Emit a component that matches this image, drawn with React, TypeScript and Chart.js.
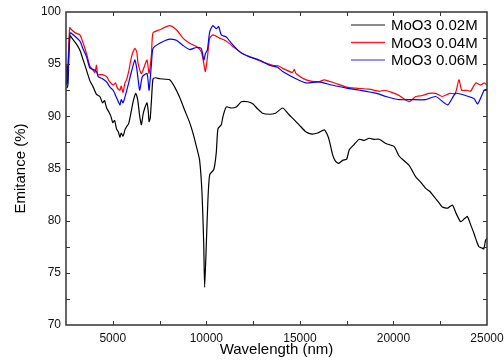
import React, { useEffect, useRef } from "react";
import { Chart, registerables } from "chart.js";

Chart.register(...registerables);

const FONT = "'Liberation Sans', Arial, sans-serif";

// MoO3 0.02M (black)
const wl002 = [2550, 2600, 2650, 2720, 2900, 3100, 3250, 3400, 3600, 3780, 3955, 4130, 4310, 4450, 4560, 4670, 4800, 4900, 5000, 5100, 5200, 5300, 5380, 5450, 5550, 5650, 5735, 5850, 6000, 6100, 6230, 6330, 6440, 6530, 6620, 6710, 6830, 6900, 6940, 7000, 7070, 7150, 7300, 7510, 8040, 8310, 8580, 8840, 9110, 9300, 9470, 9640, 9770, 9860, 9910, 10000, 10085, 10180, 10400, 10530, 10620, 10800, 10890, 11070, 11330, 11600, 11870, 12220, 12480, 12750, 13000, 13370, 13700, 14080, 14400, 14790, 15050, 15330, 15650, 15950, 16300, 16450, 16570, 16750, 16900, 17070, 17300, 17500, 17640, 17900, 18170, 18450, 18700, 18950, 19240, 19600, 20040, 20300, 20600, 20840, 21000, 21190, 21450, 21720, 21950, 22170, 22400, 22610, 22900, 23150, 23350, 23590, 23800, 23950, 24150, 24300, 24450, 24570, 24700, 24830, 24920, 25000];
const em002 = [92.7, 93.0, 95.5, 97.7, 97.3, 96.8, 96.3, 95.5, 94.4, 93.4, 92.8, 92.1, 91.9, 91.3, 91.5, 90.8, 90.4, 90.0, 89.4, 89.6, 88.8, 88.5, 88.0, 88.4, 88.1, 88.7, 89.0, 89.3, 90.6, 91.5, 92.2, 91.6, 90.0, 89.2, 90.2, 90.8, 91.3, 90.4, 89.5, 89.8, 91.6, 93.6, 93.7, 93.6, 93.5, 92.8, 91.8, 90.6, 89.4, 88.3, 87.1, 85.8, 82.6, 77.8, 73.6, 77.8, 82.0, 84.4, 84.9, 86.5, 88.8, 89.2, 90.0, 90.9, 90.8, 90.9, 91.4, 91.4, 91.2, 90.7, 90.3, 90.2, 90.3, 90.8, 90.2, 89.5, 89.0, 88.5, 88.3, 88.4, 88.7, 88.3, 87.7, 86.3, 85.7, 85.5, 85.8, 85.9, 86.8, 87.3, 87.8, 87.7, 87.9, 87.8, 87.8, 87.4, 87.1, 86.2, 85.7, 85.3, 84.8, 84.2, 83.7, 83.1, 82.8, 82.3, 81.8, 81.3, 81.2, 81.5, 80.7, 79.9, 80.2, 80.4, 79.5, 78.8, 78.0, 77.5, 77.4, 77.3, 78.1, 78.3];

// MoO3 0.04M (red)
const wl004 = [2530, 2560, 2600, 2640, 2700, 2800, 3000, 3246, 3400, 3600, 3780, 3955, 4050, 4130, 4200, 4450, 4670, 4800, 5020, 5150, 5250, 5380, 5450, 5550, 5650, 5735, 5850, 6000, 6180, 6280, 6350, 6530, 6650, 6830, 6940, 7070, 7150, 7510, 8040, 8400, 8750, 9110, 9470, 9730, 9850, 9950, 10060, 10180, 10350, 10710, 11070, 11420, 11950, 12480, 13020, 13550, 13900, 14080, 14600, 14700, 14790, 15330, 16000, 16300, 16850, 17500, 18000, 18700, 19240, 19500, 19900, 20300, 20840, 21190, 21550, 21900, 22260, 22610, 23000, 23300, 23500, 23650, 23950, 24120, 24400, 24650, 24850, 25000];
const em004 = [95.0, 94.0, 94.6, 96.5, 98.5, 98.3, 98.0, 97.8, 97.1, 96.0, 94.8, 94.4, 94.2, 94.9, 94.0, 94.0, 93.8, 93.4, 93.0, 93.2, 92.7, 92.5, 92.9, 92.3, 93.2, 93.5, 94.3, 95.7, 96.5, 96.2, 95.1, 94.1, 94.6, 95.4, 94.1, 96.0, 98.0, 98.3, 98.7, 98.3, 97.5, 97.0, 96.7, 96.2, 95.2, 94.3, 95.7, 97.5, 97.8, 97.5, 97.2, 96.7, 96.0, 95.6, 95.2, 94.9, 94.8, 94.6, 94.2, 94.5, 94.1, 93.5, 93.3, 93.5, 93.2, 92.8, 92.7, 92.6, 92.4, 92.5, 92.3, 92.0, 91.4, 91.9, 92.0, 92.2, 92.2, 91.9, 92.2, 92.2, 93.5, 92.5, 92.5, 92.4, 93.2, 93.0, 93.2, 93.0];

// MoO3 0.06M (blue)
const wl006 = [2530, 2560, 2590, 2620, 2660, 2720, 2900, 3246, 3400, 3600, 3780, 3955, 4130, 4220, 4450, 4670, 4850, 5020, 5200, 5380, 5450, 5550, 5735, 5850, 6000, 6180, 6280, 6350, 6440, 6580, 6830, 6940, 7070, 7150, 7510, 8040, 8400, 8750, 9110, 9470, 9730, 9870, 9950, 10060, 10180, 10350, 10530, 10660, 10800, 11070, 11250, 11770, 12300, 12830, 13370, 13800, 14080, 14790, 15330, 16000, 16700, 17500, 18200, 19100, 19600, 20300, 21000, 21720, 22260, 22900, 23320, 23850, 24300, 24500, 24850, 25000];
const em006 = [93.0, 94.8, 93.2, 95.0, 96.5, 98.0, 97.8, 97.2, 96.5, 95.7, 94.6, 94.5, 94.3, 93.8, 93.6, 93.3, 92.8, 92.5, 91.8, 91.1, 91.6, 91.3, 92.4, 93.2, 94.3, 95.4, 94.6, 93.6, 92.5, 93.8, 94.1, 92.5, 95.1, 96.5, 97.0, 97.4, 97.3, 96.8, 96.4, 96.6, 96.5, 95.4, 96.0, 96.4, 98.1, 98.7, 98.4, 98.6, 97.8, 97.6, 97.2, 96.2, 95.7, 95.4, 94.9, 94.7, 94.3, 93.6, 93.2, 93.3, 93.0, 92.7, 92.5, 92.2, 91.9, 91.6, 91.6, 91.6, 91.9, 91.1, 92.2, 92.0, 91.7, 91.2, 92.5, 92.6];

const seriesNames = ["MoO3 0.02M", "MoO3 0.04M", "MoO3 0.06M"];
const seriesColors = ["#000000", "#ff0000", "#0000ff"];
const legendColors = ["#666666", "#ff2020", "#7070ff"];
const xTickValues = [5000, 10000, 15000, 20000, 25000];
const yTickValues = [70, 75, 80, 85, 90, 95, 100];

const toPoints = (xs: number[], ys: number[]) => xs.map((x, i) => ({ x, y: ys[i] }));

const framePlugin = {
  id: "frame",
  afterDatasetsDraw(chart: any) {
    const { ctx, chartArea } = chart;
    const { left, right, top, bottom } = chartArea;
    const xs = chart.scales.x;
    const ys = chart.scales.y;
    ctx.save();
    ctx.strokeStyle = "#333333";
    ctx.lineWidth = 1;
    ctx.beginPath();
    for (let v = xs.min + 2500; v < xs.max; v += 2500) {
      const p = Math.round(xs.getPixelForValue(v)) + 0.5;
      ctx.moveTo(p, bottom);
      ctx.lineTo(p, bottom - 4);
      ctx.moveTo(p, top);
      ctx.lineTo(p, top + 4);
    }
    for (let v = ys.min + 2.5; v < ys.max; v += 2.5) {
      const p = Math.round(ys.getPixelForValue(v)) + 0.5;
      ctx.moveTo(left, p);
      ctx.lineTo(left + 4, p);
      ctx.moveTo(right, p);
      ctx.lineTo(right - 4, p);
    }
    ctx.stroke();
    ctx.lineWidth = 1.5;
    ctx.strokeRect(left, top, right - left, bottom - top);
    ctx.font = "15px " + FONT;
    ctx.textBaseline = "middle";
    ctx.textAlign = "left";
    const rows = [25, 42.5, 60];
    seriesNames.forEach((name, i) => {
      ctx.strokeStyle = legendColors[i];
      ctx.lineWidth = 1.3;
      ctx.beginPath();
      ctx.moveTo(351, rows[i]);
      ctx.lineTo(385, rows[i]);
      ctx.stroke();
      ctx.fillStyle = "#000";
      ctx.fillText(name, 391, rows[i] + 1);
    });
    ctx.restore();
  },
};

export default function App() {
  const ref = useRef<HTMLCanvasElement | null>(null);
  useEffect(() => {
    document.body.style.margin = "0";
    const canvas = ref.current;
    if (!canvas) return;
    const series = [toPoints(wl002, em002), toPoints(wl004, em004), toPoints(wl006, em006)];
    const chart = new Chart(canvas, {
      type: "line",
      data: {
        datasets: [2, 1, 0].map((i) => ({
          label: seriesNames[i],
          data: series[i],
          borderColor: seriesColors[i],
          borderWidth: 1.2,
          pointRadius: 0,
          tension: 0.2,
          fill: false,
        })),
      },
      options: {
        responsive: false,
        animation: false,
        devicePixelRatio: 1,
        layout: { padding: { top: 12, right: 17, left: 12, bottom: 0 } },
        plugins: { legend: { display: false }, tooltip: { enabled: false } },
        scales: {
          x: {
            type: "linear",
            min: 2500,
            max: 25000,
            afterBuildTicks: (scale: any) => {
              scale.ticks = xTickValues.map((v) => ({ value: v }));
            },
            afterFit: (scale: any) => {
              scale.height = 35;
              scale.paddingLeft = 0;
              scale.paddingRight = 0;
            },
            grid: { display: false, drawTicks: false },
            border: { display: false },
            ticks: {
              padding: 6,
              maxRotation: 0,
              autoSkip: false,
              color: "#111",
              font: { family: FONT, size: 12 },
              callback: (v: any) => String(v),
            },
            title: {
              display: true,
              text: "Wavelength (nm)",
              color: "#000",
              font: { family: FONT, size: 15 },
              padding: { top: 0, bottom: 1 },
            },
          },
          y: {
            type: "linear",
            min: 70,
            max: 100,
            afterBuildTicks: (scale: any) => {
              scale.ticks = yTickValues.map((v) => ({ value: v }));
            },
            afterFit: (scale: any) => {
              scale.width = 54;
              scale.paddingTop = 0;
              scale.paddingBottom = 0;
            },
            grid: { display: false, drawTicks: false },
            border: { display: false },
            ticks: {
              padding: 5,
              color: "#111",
              font: { family: FONT, size: 12 },
              callback: (v: any) => String(v),
            },
            title: {
              display: true,
              text: "Emitance (%)",
              color: "#000",
              font: { family: FONT, size: 15 },
              padding: { top: 0, bottom: 0 },
            },
          },
        },
      },
      plugins: [framePlugin],
    });
    return () => chart.destroy();
  }, []);
  return <canvas ref={ref} width={504} height={360} style={{ display: "block" }} />;
}
